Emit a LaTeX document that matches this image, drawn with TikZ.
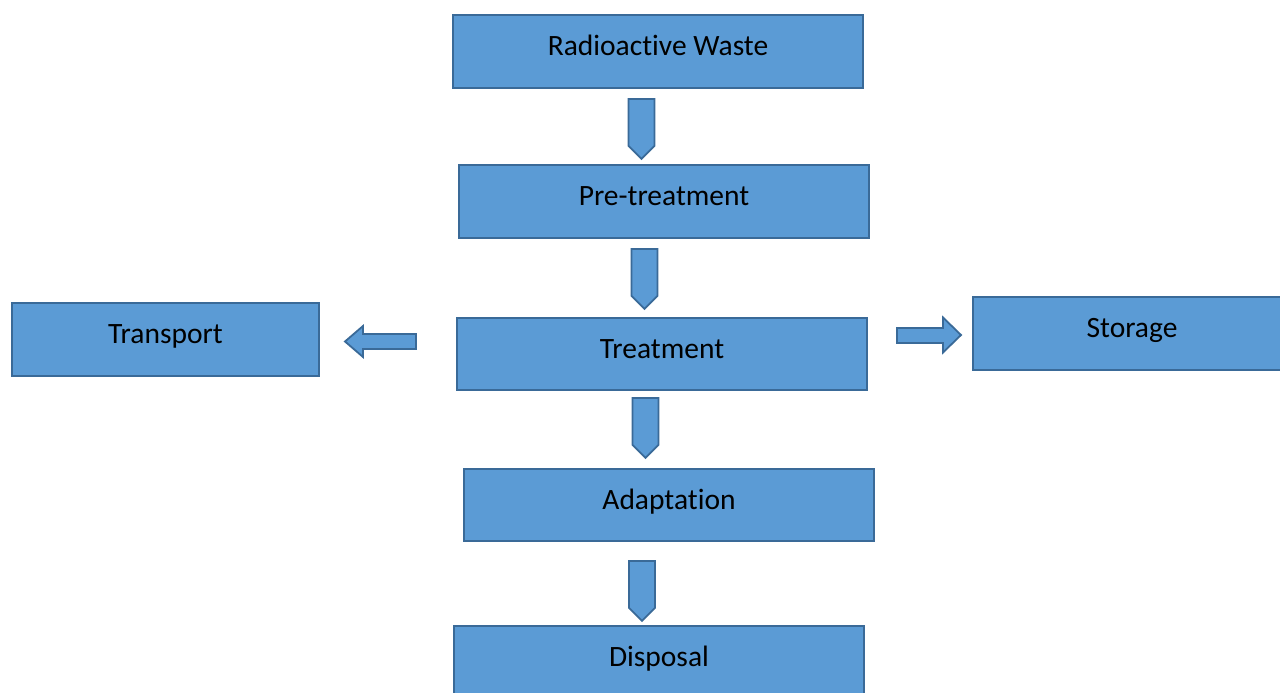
\documentclass[tikz,border=0pt]{standalone}
\usepackage{fontspec}
\setmainfont{Carlito}[Ligatures=NoCommon]
\usetikzlibrary{positioning, shapes.symbols}
\definecolor{box_fill}{HTML}{5B9BD5}
\definecolor{box_edge}{HTML}{3A6A98}
\tikzset{
    flow_box/.style={rectangle, minimum width=410pt, minimum height=73pt, text centered, align=center,
        text height=13.5pt, text depth=5.5pt, inner sep=0pt, fill=box_fill, draw=box_edge, line width=1.6pt,
        font=\fontsize{29.5}{35}\selectfont},
    side_box/.style={flow_box, minimum width=307pt},
    down_arrow/.style={signal, signal to=south, minimum width=26pt, minimum height=47pt, inner sep=0pt,
        anchor=north, fill=box_fill, draw=box_edge, line width=1.8pt},
    side_arrow/.style={fill=box_fill, draw=box_edge, line width=1.8pt, line join=miter},
}
\begin{document}
\begin{tikzpicture}[x=1pt, y=-1pt]
      \useasboundingbox (0,0) rectangle (1280,693);
      %%%%%%%%%%%%%%%
      % Main column %
      %%%%%%%%%%%%%%%
      \node (waste) [flow_box] at (658,51.5)
          {Radioactive Waste};
      \node (pretreat) [flow_box] at (664,201.5)
          {Pre-treatment};
      \node (treat) [flow_box, minimum height=72pt] at (662,354)
          {Treatment};
      \node (adapt) [flow_box, minimum height=72pt] at (669,505)
          {Adaptation};
      \node (disposal) [flow_box] at (659,662.5)
          {Disposal};
      %%%%%%%%%%%%%%
      % Side boxes %
      %%%%%%%%%%%%%%
      \node (transport) [side_box] at (165.5,339.5)
          {Transport};
      \node (storage) [side_box, minimum width=318pt] at (1132,333.5)
          {Storage};

      % block arrows
      \node (arr_one) [down_arrow] at (641.5,98) {};
      \node (arr_two) [down_arrow] at (644.5,248) {};
      \node (arr_three) [down_arrow] at (645.5,397) {};
      \node (arr_four) [down_arrow] at (642,560) {};
      \coordinate (left_tip) at (345,341.5);
      \coordinate (right_tip) at (961,335);
      \draw [side_arrow] (left_tip) -- ++(18,-15.5) -- ++(0,8) -- ++(53,0) -- ++(0,15)
          -- ++(-53,0) -- ++(0,8) -- cycle;
      \draw [side_arrow] (right_tip) -- ++(-18,-17.5) -- ++(0,10.5) -- ++(-46,0) -- ++(0,15)
          -- ++(46,0) -- ++(0,9.5) -- cycle;

    \end{tikzpicture}
\end{document}
